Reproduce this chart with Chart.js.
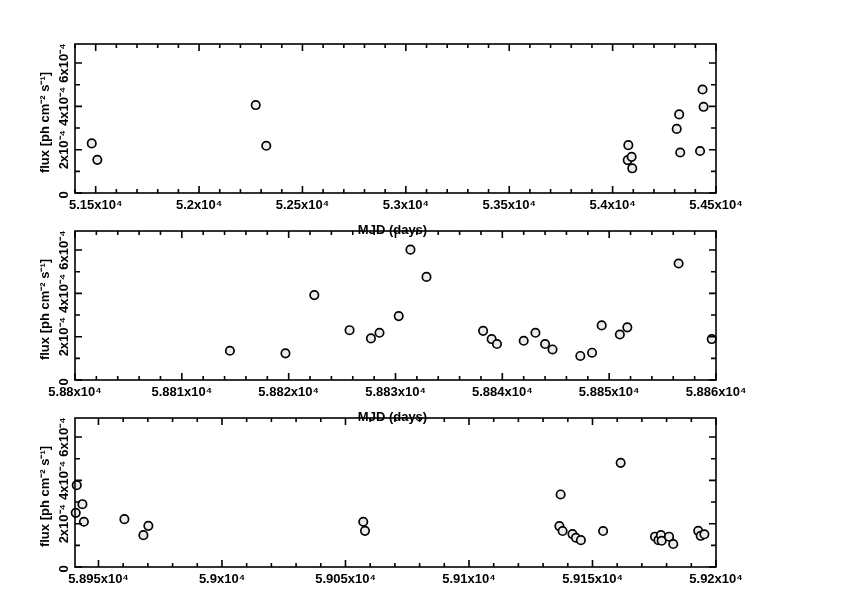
<!DOCTYPE html>
<html>
<head>
<meta charset="utf-8">
<script src="https://cdn.jsdelivr.net/npm/chart.js"></script>
<style>
  html, body { margin: 0; padding: 0; background: #fff; overflow: hidden; }
  canvas { position: absolute; left: 0; }
</style>
</head>
<body>
<canvas id="c1" width="842" height="245" style="top:0px"></canvas>
<canvas id="c2" width="842" height="245" style="top:187px"></canvas>
<canvas id="c3" width="842" height="245" style="top:374px"></canvas>
<script>
// flux values are in units of 1e-4 ph cm^-2 s^-1
const mjd1 = [51481, 51508, 52274, 52325, 54073, 54076, 54092, 54095, 54310, 54322, 54327, 54423, 54435, 54440];
const flux1 = [2.29, 1.53, 4.06, 2.18, 1.52, 2.21, 1.67, 1.14, 2.96, 3.63, 1.87, 1.94, 4.78, 3.98];

const mjd2 = [58814.5, 58819.7, 58822.4, 58825.7, 58827.7, 58828.5, 58830.3, 58831.4, 58832.9, 58838.2, 58839.0, 58839.5,
              58842.0, 58843.1, 58844.0, 58844.7, 58847.3, 58848.4, 58849.3, 58851.0, 58851.7, 58856.5, 58859.6];
const flux2 = [1.35, 1.23, 3.92, 2.30, 1.92, 2.18, 2.95, 6.02, 4.76, 2.27, 1.89, 1.66,
               1.81, 2.18, 1.66, 1.41, 1.11, 1.26, 2.52, 2.10, 2.43, 5.38, 1.89];

const mjd3 = [58940.8, 58941.2, 58943.5, 58944.1, 58960.5, 58968.2, 58970.2, 59057.2, 59057.9, 59136.6, 59137.1, 59137.9, 59141.9,
              59143.3, 59145.3, 59154.3, 59161.4, 59175.3, 59176.7, 59177.7, 59178.0, 59181.0, 59182.7, 59192.8, 59193.8, 59195.3];
const flux3 = [2.50, 3.78, 2.90, 2.09, 2.21, 1.47, 1.90, 2.09, 1.67, 1.89, 3.35, 1.66, 1.52,
               1.35, 1.24, 1.66, 4.81, 1.40, 1.24, 1.47, 1.21, 1.40, 1.06, 1.67, 1.44, 1.51];

const xRange1 = [51400, 54500];
const xRange2 = [58800, 58860];
const xRange3 = [58940.5, 59200];

const xTicks1 = [51500, 52000, 52500, 53000, 53500, 54000, 54500];
const xTicks2 = [58800, 58810, 58820, 58830, 58840, 58850, 58860];
const xTicks3 = [58950, 59000, 59050, 59100, 59150, 59200];

const yTicks = [0, 2e-4, 4e-4, 6e-4];
const yTickLabels = ['0', '2x10⁻⁴', '4x10⁻⁴', '6x10⁻⁴'];
const yMax = 6.88e-4;

const FONT = '"Liberation Sans", Arial, sans-serif';

// box, inward ticks, rotated y labels and axis titles
const frame = {
  id: 'frame',
  afterDraw(chart, args, opts) {
    const { ctx, chartArea: a, scales: { x, y } } = chart;
    ctx.save();
    ctx.strokeStyle = '#000';
    ctx.lineWidth = 1.6;
    ctx.strokeRect(a.left, a.top, a.right - a.left, a.bottom - a.top);

    ctx.beginPath();
    const xt = (v, len) => {
      const px = x.getPixelForValue(v);
      ctx.moveTo(px, a.bottom); ctx.lineTo(px, a.bottom - len);
      ctx.moveTo(px, a.top); ctx.lineTo(px, a.top + len);
    };
    const yt = (v, len) => {
      const py = y.getPixelForValue(v);
      ctx.moveTo(a.left, py); ctx.lineTo(a.left + len, py);
      ctx.moveTo(a.right, py); ctx.lineTo(a.right - len, py);
    };
    for (let v = Math.ceil(x.min / opts.minor) * opts.minor; v <= x.max + 1e-6; v += opts.minor) xt(v, 4);
    opts.ticks.forEach(v => xt(v, 7));
    for (let i = 1; i * 1e-4 <= y.max; i++) yt(i * 1e-4, 5);
    yTicks.forEach(v => yt(v, 7));
    ctx.stroke();

    ctx.fillStyle = '#000';
    ctx.font = 'bold 13px ' + FONT;
    ctx.textAlign = 'center';
    ctx.textBaseline = 'middle';
    yTicks.forEach((v, i) => {
      ctx.save();
      ctx.translate(64, y.getPixelForValue(v) + (v === 0 ? 2 : 0));
      ctx.rotate(-Math.PI / 2);
      ctx.fillText(yTickLabels[i], 0, 0);
      ctx.restore();
    });
    ctx.save();
    ctx.translate(45, (a.top + a.bottom) / 2 + 4);
    ctx.rotate(-Math.PI / 2);
    ctx.fillText('flux [ph cm⁻² s⁻¹]', 0, 0);
    ctx.restore();

    ctx.fillText('MJD (days)', (a.left + a.right) / 2 - 3, a.bottom + 37);
    ctx.restore();
  }
};

function makePanel(id, xs, ys, range, ticks, minor) {
  new Chart(document.getElementById(id), {
    type: 'scatter',
    data: {
      datasets: [{
        data: xs.map((v, i) => ({ x: v, y: ys[i] * 1e-4 })),
        pointRadius: 4.2,
        borderWidth: 1.7,
        borderColor: '#000',
        backgroundColor: '#ececec',
        clip: false
      }]
    },
    options: {
      responsive: false,
      animation: false,
      events: [],
      layout: { padding: { top: 44, right: 126, bottom: 32, left: 0 } },
      plugins: { legend: { display: false }, tooltip: { enabled: false }, frame: { ticks, minor } },
      scales: {
        x: {
          type: 'linear',
          min: range[0],
          max: range[1],
          afterBuildTicks: s => { s.ticks = ticks.map(v => ({ value: v })); },
          afterFit: s => { s.height = 20; },
          grid: { display: false },
          border: { display: false },
          ticks: {
            autoSkip: false,
            maxRotation: 0,
            padding: -3,
            color: '#000',
            font: { family: FONT, size: 13, weight: 'bold' },
            callback: v => (+(v / 1e4).toFixed(4)) + 'x10⁴'
          }
        },
        y: {
          min: 0,
          max: yMax,
          afterFit: s => { s.width = 75; },
          grid: { display: false },
          border: { display: false },
          ticks: { display: false }
        }
      }
    },
    plugins: [frame]
  });
}

makePanel('c1', mjd1, flux1, xRange1, xTicks1, 100);
makePanel('c2', mjd2, flux2, xRange2, xTicks2, 2);
makePanel('c3', mjd3, flux3, xRange3, xTicks3, 10);
</script>
</body>
</html>
